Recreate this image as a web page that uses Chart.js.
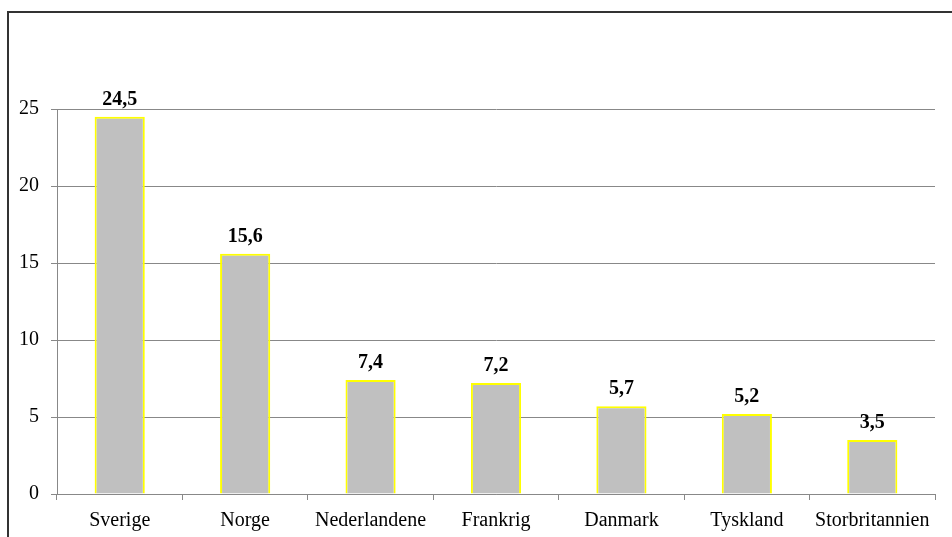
<!DOCTYPE html>
<html>
<head>
<meta charset="utf-8">
<script src="https://cdn.jsdelivr.net/npm/chart.js@4"></script>
<style>
  body { margin: 0; background: #fff; }
  #wrap { position: relative; width: 952px; height: 537px; overflow: hidden; }
  #frame { position: absolute; left: 7px; top: 11px; width: 1000px; height: 600px;
           border-left: 2px solid #333; border-top: 2px solid #333; }
  canvas { position: absolute; left: 0; top: 0; }
</style>
</head>
<body>
<div id="wrap">
  <div id="frame"></div>
  <canvas id="chart" width="952" height="537"></canvas>
</div>
<script>
const countries = ["Sverige", "Norge", "Nederlandene", "Frankrig", "Danmark", "Tyskland", "Storbritannien"];
const values = [24.5, 15.6, 7.4, 7.2, 5.7, 5.2, 3.5];
const yTicks = [0, 5, 10, 15, 20, 25];

const serif = "'Liberation Serif', 'Times New Roman', serif";

// draw the value on top of each bar, with decimal comma
const valueLabels = {
  id: "valueLabels",
  afterDatasetsDraw(chart) {
    const ctx = chart.ctx;
    const meta = chart.getDatasetMeta(0);
    ctx.save();
    ctx.font = "bold 20px " + serif;
    ctx.fillStyle = "#000";
    ctx.textAlign = "center";
    ctx.textBaseline = "alphabetic";
    meta.data.forEach((bar, i) => {
      ctx.fillText(values[i].toFixed(1).replace(".", ","), bar.x, bar.y - 12);
    });
    ctx.restore();
  }
};

new Chart(document.getElementById("chart"), {
  type: "bar",
  data: {
    labels: countries,
    datasets: [{
      data: values,
      backgroundColor: "#c0c0c0",
      borderColor: "#ffff00",
      borderWidth: 2,
      categoryPercentage: 1,
      barPercentage: 0.4
    }]
  },
  options: {
    responsive: false,
    animation: false,
    layout: { padding: { left: 0, top: 109, right: 17, bottom: 0 } },
    plugins: { legend: { display: false }, tooltip: { enabled: false } },
    scales: {
      x: {
        offset: true,
        grid: { offset: true, drawOnChartArea: false, color: "#888", tickLength: 6 },
        border: { color: "#888", width: 1 },
        ticks: { color: "#000", font: { family: serif, size: 20 }, padding: 9, maxRotation: 0 },
        afterFit(scale) { scale.height = 537 - 494; }
      },
      y: {
        min: 0,
        max: 25,
        afterBuildTicks(scale) { scale.ticks = yTicks.map(v => ({ value: v })); },
        grid: { color: "#888", tickLength: 6 },
        border: { color: "#888", width: 1 },
        ticks: { color: "#000", font: { family: serif, size: 20 }, padding: 12 },
        afterFit(scale) { scale.width = 57; }
      }
    }
  },
  plugins: [valueLabels]
});
</script>
</body>
</html>
